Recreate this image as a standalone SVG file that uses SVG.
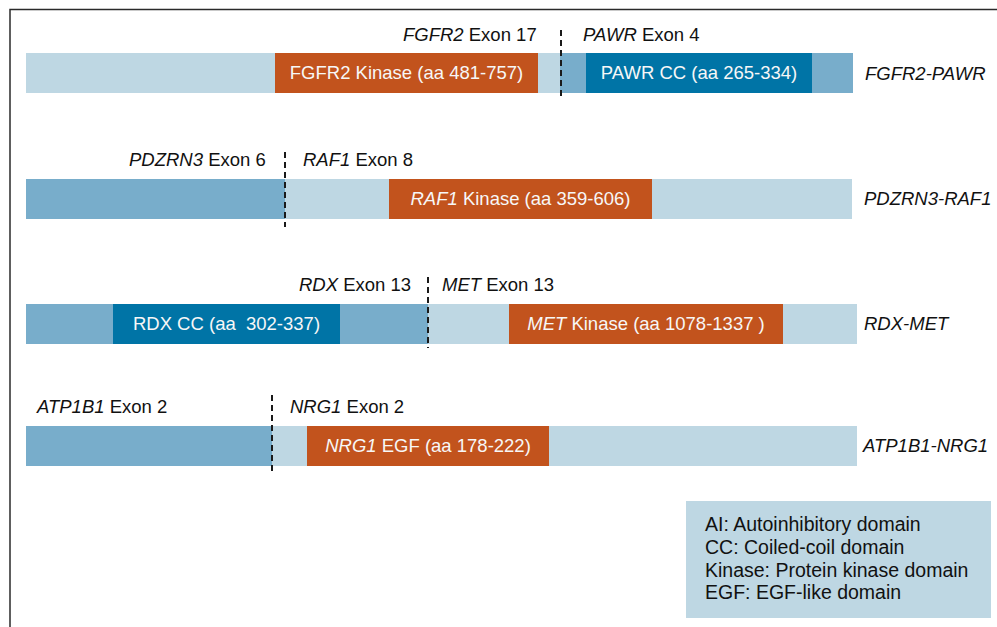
<svg xmlns="http://www.w3.org/2000/svg" width="997" height="627" viewBox="0 0 997 627">
<style>
.lt{fill:#BED7E3}
.md{fill:#78ADCB}
.dk{fill:#0074A6}
.or{fill:#C2531D}
text{font-family:"Liberation Sans",Arial,sans-serif;font-size:18.5px;fill:#111}
.in{fill:#F7F7F7;text-anchor:middle;white-space:pre}
.it{font-style:italic}
.nm{font-style:italic}
.bp{stroke:#1a1a1a;stroke-width:2;stroke-dasharray:6 4;fill:none}
.lg{font-size:19.5px}
</style>
<rect x="0" y="0" width="997" height="627" fill="#fff"/>
<rect x="10" y="9.5" width="1000" height="700" fill="none" stroke="#2a2a2a" stroke-width="1.5"/>

<g id="fgfr2-pawr">
<rect class="lt" x="26" y="53" width="827" height="40"/>
<rect class="or" x="275" y="53" width="263" height="40"/>
<rect class="md" x="560" y="53" width="26" height="40"/>
<rect class="dk" x="586" y="53" width="226" height="40"/>
<rect class="md" x="812" y="53" width="41" height="40"/>
<text class="in" x="406.5" y="79">FGFR2 Kinase (aa 481-757)</text>
<text class="in" x="699" y="79">PAWR CC (aa 265-334)</text>
<text x="403" y="41"><tspan class="it">FGFR2</tspan> Exon 17</text>
<text x="583" y="41"><tspan class="it">PAWR</tspan> Exon 4</text>
<text class="nm" x="865" y="80">FGFR2-PAWR</text>
</g>

<g id="pdzrn3-raf1">
<rect class="lt" x="26" y="179" width="826" height="40"/>
<rect class="md" x="26" y="179" width="259" height="40"/>
<rect class="or" x="389" y="179" width="263" height="40"/>
<text class="in" x="520.5" y="205"><tspan class="it">RAF1</tspan> Kinase (aa 359-606)</text>
<text x="129" y="166"><tspan class="it">PDZRN3</tspan> Exon 6</text>
<text x="303" y="166"><tspan class="it">RAF1</tspan> Exon 8</text>
<text class="nm" x="864" y="205">PDZRN3-RAF1</text>
</g>

<g id="rdx-met">
<rect class="lt" x="26" y="304" width="831" height="40"/>
<rect class="md" x="26" y="304" width="402" height="40"/>
<rect class="dk" x="113" y="304" width="227" height="40"/>
<rect class="or" x="509" y="304" width="274" height="40"/>
<text class="in" x="226.5" y="330">RDX CC (aa  302-337)</text>
<text class="in" x="646" y="330"><tspan class="it">MET</tspan> Kinase (aa 1078-1337 )</text>
<text x="299" y="291"><tspan class="it">RDX</tspan> Exon 13</text>
<text x="442" y="291"><tspan class="it">MET</tspan> Exon 13</text>
<text class="nm" x="864" y="330">RDX-MET</text>
</g>

<g id="atp1b1-nrg1">
<rect class="lt" x="26" y="426" width="831" height="40"/>
<rect class="md" x="26" y="426" width="246" height="40"/>
<rect class="or" x="307" y="426" width="242" height="40"/>
<text class="in" x="428" y="452"><tspan class="it">NRG1</tspan> EGF (aa 178-222)</text>
<text x="37" y="413"><tspan class="it">ATP1B1</tspan> Exon 2</text>
<text x="290" y="413"><tspan class="it">NRG1</tspan> Exon 2</text>
<text class="nm" x="863" y="452">ATP1B1-NRG1</text>
</g>

<g id="breakpoints">
<line class="bp" x1="561" y1="30" x2="561" y2="100"/>
<line class="bp" x1="285" y1="152" x2="285" y2="227"/>
<line class="bp" x1="428" y1="277" x2="428" y2="348"/>
<line class="bp" x1="272" y1="395" x2="272" y2="474"/>
</g>

<g id="legend">
<rect class="lt" x="686" y="501" width="305" height="117"/>
<text class="lg" x="705" y="531">AI: Autoinhibitory domain</text>
<text class="lg" x="705" y="553.5">CC: Coiled-coil domain</text>
<text class="lg" x="705" y="576.5">Kinase: Protein kinase domain</text>
<text class="lg" x="705" y="599">EGF: EGF-like domain</text>
</g>
</svg>
